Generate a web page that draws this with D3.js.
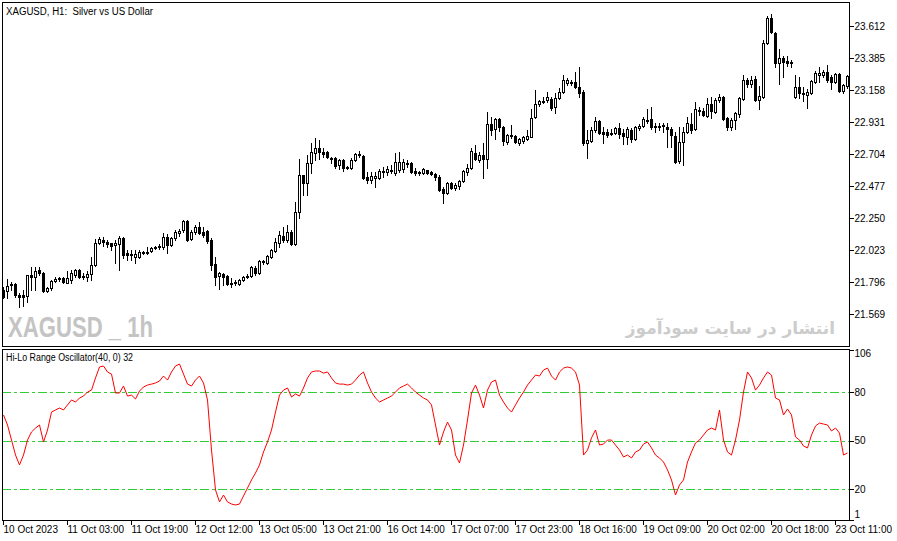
<!DOCTYPE html>
<html>
<head>
<meta charset="utf-8">
<script src="https://cdn.jsdelivr.net/npm/d3@7"></script>
<style>
  body { margin: 0; background: #fff; }
  svg { display: block; }
  text { font-family: "Liberation Sans", Arial, sans-serif; }
</style>
</head>
<body>
<div id="chart"></div>
<script>
// XAGUSD H1 candles, 10 Oct 2023 11:00 .. 23 Oct 2023 ~14:00
var open = [
  21.740,21.733,21.775,21.782,21.704,21.704,21.697,21.846,21.832,21.882,
  21.860,21.733,21.754,21.804,21.818,21.825,21.789,21.811,21.846,21.882,
  21.832,21.832,21.853,21.917,22.073,22.094,22.080,22.073,22.059,22.066,
  22.108,22.002,21.995,21.974,21.974,22.009,22.009,22.017,22.038,22.045,
  22.045,22.115,22.059,22.108,22.144,22.165,22.229,22.101,22.151,22.186,
  22.151,22.158,22.094,21.924,21.839,21.853,21.839,21.789,21.789,21.782,
  21.811,21.832,21.839,21.896,21.860,21.938,21.931,21.974,22.017,22.073,
  22.123,22.094,22.151,22.066,22.293,22.555,22.498,22.640,22.711,22.747,
  22.719,22.719,22.676,22.676,22.626,22.662,22.612,22.605,22.662,22.704,
  22.690,22.541,22.520,22.534,22.534,22.584,22.577,22.591,22.569,22.591,
  22.598,22.640,22.640,22.584,22.577,22.569,22.591,22.577,22.562,22.541,
  22.456,22.427,22.498,22.463,22.477,22.513,22.577,22.605,22.711,22.662,
  22.697,22.669,22.917,22.882,22.952,22.896,22.789,22.839,22.832,22.782,
  22.796,22.811,22.825,22.966,23.059,23.080,23.087,23.094,23.037,23.101,
  23.144,23.208,23.215,23.215,23.179,23.144,22.782,22.796,22.874,22.938,
  22.860,22.860,22.853,22.853,22.889,22.853,22.825,22.874,22.811,22.889,
  22.903,22.945,22.952,22.903,22.903,22.910,22.896,22.882,22.832,22.655,
  22.789,22.860,22.917,22.882,23.016,23.009,22.974,23.059,23.002,23.087,
  23.108,22.959,22.896,22.945,22.988,23.094,23.229,23.201,23.236,23.087,
  23.108,23.491,23.669,23.562,23.350,23.385,23.364,23.357,23.108,23.179,
  23.137,23.123,23.137,23.215,23.264,23.264,23.286,23.250,23.215,23.272,
  23.151,23.187
];
var high = [
  21.761,21.818,21.797,21.789,21.719,21.740,21.846,21.903,21.903,21.903,
  21.868,21.761,21.811,21.832,21.832,21.832,21.875,21.882,21.889,21.889,
  21.860,21.875,21.974,22.101,22.115,22.115,22.094,22.073,22.094,22.123,
  22.115,22.024,22.024,22.024,22.024,22.017,22.045,22.045,22.052,22.066,
  22.144,22.137,22.115,22.165,22.172,22.236,22.236,22.165,22.201,22.222,
  22.186,22.165,22.108,21.974,21.868,21.860,21.846,21.825,21.811,21.818,
  21.839,21.853,21.910,21.910,21.953,21.953,21.988,22.031,22.108,22.158,
  22.186,22.201,22.165,22.364,22.669,22.555,22.697,22.782,22.818,22.804,
  22.747,22.726,22.683,22.683,22.669,22.669,22.619,22.676,22.711,22.726,
  22.697,22.577,22.577,22.577,22.598,22.612,22.619,22.626,22.711,22.719,
  22.669,22.662,22.648,22.605,22.584,22.605,22.591,22.584,22.569,22.555,
  22.470,22.506,22.506,22.498,22.520,22.591,22.633,22.747,22.769,22.719,
  22.782,23.002,22.966,22.959,22.959,22.903,22.846,22.910,22.839,22.818,
  22.832,22.874,23.023,23.158,23.087,23.108,23.144,23.108,23.137,23.172,
  23.264,23.243,23.229,23.286,23.321,23.158,22.874,22.896,22.966,22.945,
  22.896,22.882,22.882,22.896,22.924,22.882,22.896,22.889,22.903,22.917,
  22.966,23.023,23.037,22.924,22.924,22.924,22.924,22.896,22.860,22.896,
  22.896,22.966,22.995,23.073,23.037,23.030,23.101,23.108,23.101,23.130,
  23.116,22.966,22.959,23.002,23.108,23.264,23.243,23.257,23.257,23.187,
  23.513,23.683,23.697,23.569,23.449,23.399,23.399,23.371,23.264,23.250,
  23.179,23.165,23.229,23.293,23.321,23.300,23.335,23.264,23.279,23.279,
  23.201,23.264
];
var low = [
  21.683,21.683,21.740,21.690,21.619,21.626,21.655,21.740,21.740,21.846,
  21.726,21.726,21.740,21.797,21.804,21.789,21.789,21.789,21.832,21.825,
  21.818,21.804,21.811,21.910,22.066,22.052,22.045,22.024,21.931,21.882,
  21.967,21.953,21.953,21.931,21.967,21.995,21.995,22.009,22.031,22.031,
  22.031,22.002,22.052,22.094,22.123,22.151,22.087,22.094,22.137,22.137,
  22.115,22.073,21.882,21.775,21.747,21.775,21.775,21.761,21.775,21.775,
  21.804,21.825,21.832,21.846,21.853,21.924,21.924,21.967,22.009,22.045,
  22.080,22.080,22.059,22.059,22.250,22.413,22.413,22.569,22.662,22.669,
  22.683,22.676,22.640,22.605,22.598,22.584,22.598,22.598,22.655,22.683,
  22.527,22.498,22.498,22.470,22.527,22.541,22.555,22.569,22.555,22.577,
  22.577,22.612,22.569,22.555,22.555,22.562,22.562,22.555,22.520,22.442,
  22.357,22.420,22.456,22.449,22.456,22.506,22.555,22.598,22.662,22.648,
  22.534,22.605,22.839,22.811,22.867,22.769,22.775,22.818,22.782,22.769,
  22.782,22.804,22.825,22.959,23.045,23.066,23.073,23.016,22.995,23.094,
  23.137,23.194,23.194,23.172,23.108,22.769,22.676,22.789,22.860,22.846,
  22.782,22.825,22.839,22.846,22.818,22.775,22.775,22.789,22.804,22.874,
  22.896,22.924,22.882,22.860,22.874,22.860,22.754,22.754,22.640,22.640,
  22.626,22.853,22.853,22.874,22.981,22.974,22.966,22.959,22.995,23.073,
  22.945,22.874,22.874,22.882,22.966,23.087,23.179,23.179,23.080,23.023,
  23.101,23.484,23.562,23.321,23.201,23.250,23.328,23.321,23.101,23.101,
  23.080,23.030,23.130,23.208,23.215,23.250,23.215,23.165,23.208,23.144,
  23.137,23.172
];
var close = [
  21.690,21.768,21.782,21.704,21.690,21.690,21.846,21.832,21.875,21.860,
  21.733,21.754,21.804,21.818,21.825,21.797,21.825,21.860,21.882,21.832,
  21.839,21.853,21.917,22.073,22.101,22.080,22.066,22.052,22.073,22.108,
  21.988,21.988,21.988,21.995,22.009,22.002,22.002,22.038,22.045,22.052,
  22.115,22.059,22.108,22.151,22.158,22.229,22.094,22.151,22.186,22.144,
  22.130,22.087,21.917,21.832,21.860,21.832,21.782,21.782,21.797,21.811,
  21.832,21.839,21.903,21.860,21.946,21.946,21.981,22.024,22.080,22.130,
  22.094,22.151,22.066,22.293,22.555,22.498,22.640,22.719,22.747,22.719,
  22.704,22.683,22.669,22.619,22.662,22.605,22.605,22.662,22.704,22.697,
  22.534,22.520,22.548,22.548,22.584,22.577,22.598,22.584,22.648,22.648,
  22.648,22.633,22.577,22.569,22.569,22.598,22.569,22.562,22.541,22.449,
  22.427,22.498,22.463,22.484,22.513,22.584,22.605,22.726,22.669,22.697,
  22.669,22.917,22.874,22.952,22.896,22.796,22.839,22.832,22.789,22.811,
  22.825,22.832,22.959,23.059,23.080,23.073,23.108,23.030,23.101,23.144,
  23.229,23.229,23.208,23.179,23.137,22.782,22.804,22.874,22.938,22.853,
  22.846,22.839,22.846,22.889,22.846,22.832,22.882,22.811,22.896,22.903,
  22.952,22.938,22.896,22.896,22.896,22.903,22.882,22.839,22.648,22.789,
  22.860,22.924,22.874,23.023,23.009,22.981,23.059,23.009,23.087,23.108,
  22.952,22.896,22.945,22.995,23.101,23.229,23.201,23.229,23.087,23.116,
  23.491,23.669,23.569,23.350,23.385,23.357,23.350,23.350,23.179,23.137,
  23.130,23.144,23.222,23.279,23.279,23.286,23.229,23.215,23.272,23.151,
  23.194,23.257
];
// Hi-Lo Range Oscillator(40, 0), one value per bar
var hlro = [
  65.8,59.6,50.3,41.0,34.9,41.0,50.3,55.3,57.7,59.6,
  49.1,56.5,67.6,68.9,70.1,68.9,72.0,75.1,73.8,76.3,
  77.5,80.0,81.2,88.7,95.5,96.1,92.4,91.1,79.4,79.4,
  83.7,77.5,78.1,75.7,80.6,83.1,84.3,84.9,85.6,86.8,
  89.9,87.4,92.4,96.1,97.3,91.1,84.9,83.7,87.4,89.9,
  85.6,75.1,44.1,19.4,12.0,16.3,12.0,10.7,10.1,10.7,
  15.7,20.6,25.6,29.9,34.9,42.9,49.1,56.5,67.6,78.1,
  81.2,82.5,76.9,78.8,77.5,82.5,88.7,92.4,93.0,93.0,
  91.7,92.4,88.7,85.6,84.9,84.9,84.3,84.9,87.4,90.5,
  92.4,85.6,80.0,76.3,73.8,75.1,76.3,77.5,80.0,82.5,
  83.7,84.9,82.5,80.0,78.1,76.3,75.1,72.0,59.6,47.2,
  55.3,61.4,56.5,41.0,36.1,47.2,62.7,79.4,84.3,78.1,
  70.1,81.2,86.2,87.4,78.1,73.8,70.1,67.6,72.0,76.3,
  80.0,84.3,87.4,90.5,89.9,93.6,94.8,89.9,87.4,92.4,
  94.8,95.5,94.8,92.4,84.3,41.0,44.1,51.6,56.5,47.2,
  47.8,50.3,50.3,47.2,44.1,39.8,41.0,39.2,42.9,44.1,
  47.8,49.1,45.4,41.0,39.2,36.7,31.8,25.6,16.3,22.5,
  25.6,36.7,42.9,48.5,50.3,53.4,56.5,57.7,56.5,68.9,
  50.3,42.9,41.0,50.3,62.7,80.0,92.4,88.7,81.2,84.3,
  88.7,92.4,90.5,76.3,75.1,65.8,69.5,65.8,52.2,50.3,
  46.6,45.4,53.4,59.0,60.8,60.2,59.6,55.9,57.7,54.6,
  41.0,42.3
];
var priceTicks = [23.612, 23.385, 23.158, 22.931, 22.704, 22.477, 22.250, 22.023, 21.796, 21.569];
var oscTicks = [106, 80, 50, 20, 1];
var oscLevels = [80, 50, 20];
var timeIdx = [0, 16, 32, 48, 64, 80, 96, 112, 128, 144, 160, 176, 192, 208];
var timeLabels = ['10 Oct 2023', '11 Oct 03:00', '11 Oct 19:00', '12 Oct 12:00', '13 Oct 05:00',
  '13 Oct 21:00', '16 Oct 14:00', '17 Oct 07:00', '17 Oct 23:00', '18 Oct 16:00',
  '19 Oct 09:00', '20 Oct 02:00', '20 Oct 18:00', '23 Oct 11:00'];

var W = 897, H = 541;
var left = 2, right = 849, mainTop = 2, mainBot = 346, oscTop = 349, oscBot = 520;

var bars = open.map(function (o, i) {
  return { i: i, o: o, h: high[i], l: low[i], c: close[i] };
});

var x = d3.scaleLinear().domain([0, 208]).range([3, 835]);
var y = d3.scaleLinear().domain([21.569, 23.612]).range([314, 26]);
var yo = d3.scaleLinear().domain([1, 106]).range([519.7, 350]);

var svg = d3.select('#chart')
  .append('svg')
    .attr('width', W)
    .attr('height', H);

svg.append('rect').attr('width', W).attr('height', H).style('fill', '#fff');

// watermarks
svg.append('text')
  .attr('x', 8).attr('y', 337)
  .attr('textLength', 145).attr('lengthAdjust', 'spacingAndGlyphs')
  .style('font-size', '30px').style('font-weight', 'bold')
  .style('fill', '#c4c4c4')
  .text('XAGUSD _ 1h');

svg.append('text')
  .attr('x', 835).attr('y', 334)
  .attr('text-anchor', 'end')
  .style('font-family', '"DejaVu Sans", sans-serif')
  .style('font-size', '17px').style('font-weight', 'bold')
  .style('fill', '#cccccc')
  .text('انتشار در سایت سودآموز');

// candles
var candle = svg.append('g')
  .attr('shape-rendering', 'crispEdges')
  .selectAll('g.candle')
  .data(bars)
  .enter().append('g')
    .classed('candle', true);

candle.append('line')
  .attr('x1', function (d) { return Math.round(x(d.i)) + 0.5; })
  .attr('x2', function (d) { return Math.round(x(d.i)) + 0.5; })
  .attr('y1', function (d) { return Math.round(y(d.h)); })
  .attr('y2', function (d) { return Math.round(y(d.l)) + 1; })
  .style('stroke', '#000');

candle.append('rect')
  .attr('x', function (d) { return Math.round(x(d.i)) - 0.5; })
  .attr('width', 2)
  .attr('y', function (d) { return Math.round(y(Math.max(d.o, d.c))) + 0.5; })
  .attr('height', function (d) { return Math.max(1, Math.round(y(Math.min(d.o, d.c))) - Math.round(y(Math.max(d.o, d.c)))); })
  .style('fill', function (d) { return d.c >= d.o ? '#fff' : '#000'; })
  .style('stroke', '#000');

// oscillator levels
svg.append('g')
  .attr('shape-rendering', 'crispEdges')
  .selectAll('line.level')
  .data(oscLevels)
  .enter().append('line')
    .classed('level', true)
    .attr('x1', left).attr('x2', right)
    .attr('y1', function (d) { return Math.round(yo(d)) + 0.5; })
    .attr('y2', function (d) { return Math.round(yo(d)) + 0.5; })
    .style('stroke', '#32cd32')
    .style('stroke-dasharray', '9,3,3,3');

var oscLine = d3.line()
  .x(function (d, i) { return x(i) + 0.5; })
  .y(function (d) { return yo(d); });

svg.append('path')
  .datum(hlro)
  .attr('d', oscLine)
  .style('fill', 'none')
  .style('stroke', '#ff0000')
  .style('stroke-width', 1);

// panel frames
svg.append('rect')
  .attr('x', left + 0.5).attr('y', mainTop + 0.5)
  .attr('width', right - left).attr('height', mainBot - mainTop)
  .style('fill', 'none').style('stroke', '#000');
svg.append('rect')
  .attr('x', left + 0.5).attr('y', oscTop + 0.5)
  .attr('width', right - left).attr('height', oscBot - oscTop)
  .style('fill', 'none').style('stroke', '#000');

// axes
var priceAxis = svg.append('g')
  .attr('transform', 'translate(' + (right + 0.5) + ',0)')
  .call(d3.axisRight(y).tickValues(priceTicks).tickSize(4).tickPadding(1)
    .tickFormat(d3.format('.3f')));

var oscAxis = svg.append('g')
  .attr('transform', 'translate(' + (right + 0.5) + ',0)')
  .call(d3.axisRight(yo).tickValues(oscTicks).tickSize(4).tickPadding(1));

var timeAxis = svg.append('g')
  .attr('transform', 'translate(0,' + (oscBot + 0.5) + ')')
  .call(d3.axisBottom(x).tickValues(timeIdx).tickSize(4).tickPadding(1)
    .tickFormat(function (d, i) { return timeLabels[i]; }));

[priceAxis, oscAxis, timeAxis].forEach(function (a) {
  a.select('.domain').remove();
  a.selectAll('text')
    .style('font-family', '"Liberation Sans", Arial, sans-serif')
    .style('font-size', '10px')
    .style('fill', '#000');
  a.selectAll('line').attr('shape-rendering', 'crispEdges');
});

oscAxis.selectAll('.tick text')
  .attr('dy', function (d) { return d === 106 ? '0.62em' : (d === 1 ? '-0.18em' : '0.32em'); });

timeAxis.selectAll('.tick text')
  .attr('text-anchor', 'start')
  .attr('x', 0);

// titles
svg.append('text')
  .attr('x', 6).attr('y', 15)
  .attr('textLength', 147).attr('lengthAdjust', 'spacingAndGlyphs')
  .style('font-size', '10px')
  .style('white-space', 'pre')
  .text('XAGUSD, H1:  Silver vs US Dollar');

svg.append('text')
  .attr('x', 6).attr('y', 361)
  .attr('textLength', 127).attr('lengthAdjust', 'spacingAndGlyphs')
  .style('font-size', '10px')
  .text('Hi-Lo Range Oscillator(40, 0) 32');
</script>
</body>
</html>
